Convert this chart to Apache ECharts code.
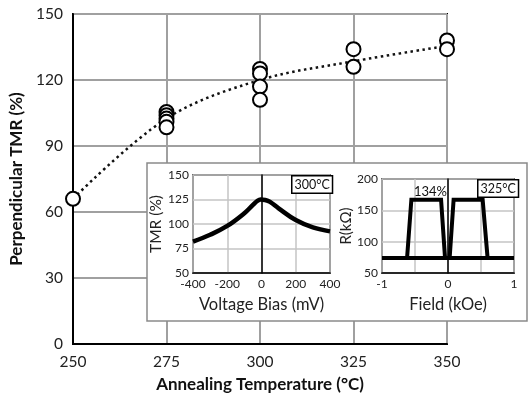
<!DOCTYPE html>
<html><head><meta charset="utf-8">
<script src="https://cdn.jsdelivr.net/npm/echarts@6/dist/echarts.min.js"></script>
<style>html,body{margin:0;padding:0;background:#fff}#c{width:532px;height:403px}</style>
</head><body><div id="c"></div>
<script>
// Main chart data
const tempTicks = [250, 275, 300, 325, 350];
const tmrTicks = [0, 30, 60, 90, 120, 150];
const measTemp = [250, 275, 275, 275, 275, 275, 300, 300, 300, 300, 325, 325, 350, 350];
const measTMR  = [66, 105.5, 104, 102.5, 101, 98.5, 125, 123, 117, 111, 134, 126, 138, 134];
const trendTemp = [250, 275, 300, 325, 350];
const trendTMR  = [66, 102.5, 120, 128.5, 135.5];
// Inset 1: TMR vs voltage bias (300 °C)
const biasMV  = [-400, -300, -200, -100, -50, -25, -5, 20, 50, 100, 200, 300, 400];
const biasTMR = [82, 89, 98, 111, 119.5, 123.5, 125, 124.5, 122.5, 116, 104, 96.5, 92.5];
// Inset 2: R vs field (325 °C)
const baseField = [-1, 1];
const baseR = [74, 74];
const loop1Field = [-0.62, -0.555, -0.105, -0.045];
const loop1R = [74, 167, 167, 74];
const loop2Field = [0.025, 0.085, 0.525, 0.6];
const loop2R = [74, 167, 167, 74];

const font = 'Lato, "Open Sans", sans-serif';
const pair = (xs, ys) => xs.map((x, i) => [x, ys[i]]);

const chart = echarts.init(document.getElementById('c'));
chart.setOption({
  animation: false,
  textStyle: { fontFamily: font },
  graphic: [
    { type: 'rect', z: 3, shape: { x: 147, y: 163, width: 380, height: 158 },
      style: { fill: '#fff', stroke: '#8a8a8a', lineWidth: 1.5 } },
    { type: 'text', z: 20, left: 291, top: 175,
      style: { text: '300°C', fontSize: 12.5, fontFamily: font, fill: '#111',
        backgroundColor: '#fff', borderColor: '#000', borderWidth: 1.5, padding: [2, 2, 1, 2] } },
    { type: 'text', z: 20, left: 477, top: 179,
      style: { text: '325°C', fontSize: 12.5, fontFamily: font, fill: '#111',
        backgroundColor: '#fff', borderColor: '#000', borderWidth: 1.5, padding: [2, 2, 1, 2] } },
    { type: 'text', z: 20, left: 414, top: 185,
      style: { text: '134%', fontSize: 13, fontFamily: font, fill: '#111' } }
  ],
  grid: [
    { left: 73, top: 14, width: 374, height: 330, show: true, borderColor: '#000', borderWidth: 2, backgroundColor: '#fff', z: 0 },
    { left: 193, top: 175, width: 137, height: 98, show: true, borderColor: '#000', borderWidth: 1.5, backgroundColor: '#fff', z: 4 },
    { left: 382, top: 179, width: 132, height: 94, show: true, borderColor: '#000', borderWidth: 1.5, backgroundColor: '#fff', z: 4 }
  ],
  xAxis: [
    { gridIndex: 0, type: 'value', min: 250, max: 350, interval: 25,
      axisLine: { show: true, lineStyle: { color: '#000', width: 2 } }, axisTick: { show: false },
      splitLine: { lineStyle: { color: '#a0a0a0', width: 2 } },
      axisLabel: { fontSize: 15.5, color: '#222', margin: 10 },
      name: 'Annealing Temperature (°C)', nameLocation: 'middle', nameGap: 32,
      nameTextStyle: { fontSize: 17, fontWeight: 'bold', color: '#111' } },
    { gridIndex: 1, type: 'value', min: -400, max: 400, interval: 200, z: 5,
      axisLine: { show: true, lineStyle: { color: '#000', width: 1.5 } }, axisTick: { show: false },
      splitLine: { lineStyle: { color: '#c4c4c4', width: 1.5 } },
      axisLabel: { fontSize: 12, color: '#222', margin: 5 },
      name: 'Voltage Bias (mV)', nameLocation: 'middle', nameGap: 23,
      nameTextStyle: { fontSize: 16.5, color: '#222' } },
    { gridIndex: 2, type: 'value', min: -1, max: 1, interval: 0.5, z: 5,
      axisLine: { show: true, lineStyle: { color: '#000', width: 1.5 } }, axisTick: { show: false },
      splitLine: { lineStyle: { color: '#c4c4c4', width: 1.5 } },
      axisLabel: { fontSize: 12, color: '#222', margin: 5,
        formatter: v => (Math.abs(v % 1) < 1e-9 ? String(v) : '') },
      name: 'Field (kOe)', nameLocation: 'middle', nameGap: 23,
      nameTextStyle: { fontSize: 16.5, color: '#222' } }
  ],
  yAxis: [
    { gridIndex: 0, type: 'value', min: 0, max: 150, interval: 30,
      axisLine: { show: true, lineStyle: { color: '#000', width: 2 } }, axisTick: { show: false },
      splitLine: { lineStyle: { color: '#a0a0a0', width: 2 } },
      axisLabel: { fontSize: 15.5, color: '#222', margin: 10 },
      name: 'Perpendicular TMR (%)', nameLocation: 'middle', nameGap: 43,
      nameTextStyle: { fontSize: 17, fontWeight: 'bold', color: '#111' } },
    { gridIndex: 1, type: 'value', min: 50, max: 150, interval: 25, z: 5,
      axisLine: { show: true, lineStyle: { color: '#000', width: 1.5 } }, axisTick: { show: false },
      splitLine: { lineStyle: { color: '#c4c4c4', width: 1.5 } },
      axisLabel: { fontSize: 12, color: '#222', margin: 4 },
      name: 'TMR (%)', nameLocation: 'middle', nameGap: 26,
      nameTextStyle: { fontSize: 15.5, color: '#222' } },
    { gridIndex: 2, type: 'value', min: 50, max: 200, interval: 50, z: 5,
      axisLine: { show: true, lineStyle: { color: '#000', width: 1.5 } }, axisTick: { show: false },
      splitLine: { lineStyle: { color: '#c4c4c4', width: 1.5 } },
      axisLabel: { fontSize: 12, color: '#222', margin: 4 },
      name: 'R(kΩ)', nameLocation: 'middle', nameGap: 26,
      nameTextStyle: { fontSize: 15, color: '#222' } }
  ],
  series: [
    { type: 'line', xAxisIndex: 0, yAxisIndex: 0, data: pair(trendTemp, trendTMR), smooth: 0.35,
      symbol: 'none', z: 2, lineStyle: { color: '#111', width: 2.5, type: [2.5, 3.5] } },
    { type: 'scatter', xAxisIndex: 0, yAxisIndex: 0, data: pair(measTemp, measTMR), z: 3,
      symbol: 'circle', symbolSize: 14,
      itemStyle: { color: '#fff', borderColor: '#000', borderWidth: 2, opacity: 1 } },
    { type: 'line', xAxisIndex: 1, yAxisIndex: 1, data: pair(biasMV, biasTMR), smooth: 0.4,
      symbol: 'none', z: 6, lineStyle: { color: '#000', width: 4.5 } },
    { type: 'line', xAxisIndex: 2, yAxisIndex: 2, data: pair(baseField, baseR),
      symbol: 'none', z: 6, lineStyle: { color: '#000', width: 4 } },
    { type: 'line', xAxisIndex: 2, yAxisIndex: 2, data: pair(loop1Field, loop1R),
      symbol: 'none', z: 6, lineStyle: { color: '#000', width: 4, join: 'miter' } },
    { type: 'line', xAxisIndex: 2, yAxisIndex: 2, data: pair(loop2Field, loop2R),
      symbol: 'none', z: 6, lineStyle: { color: '#000', width: 4, join: 'miter' } }
  ]
});
</script></body></html>
